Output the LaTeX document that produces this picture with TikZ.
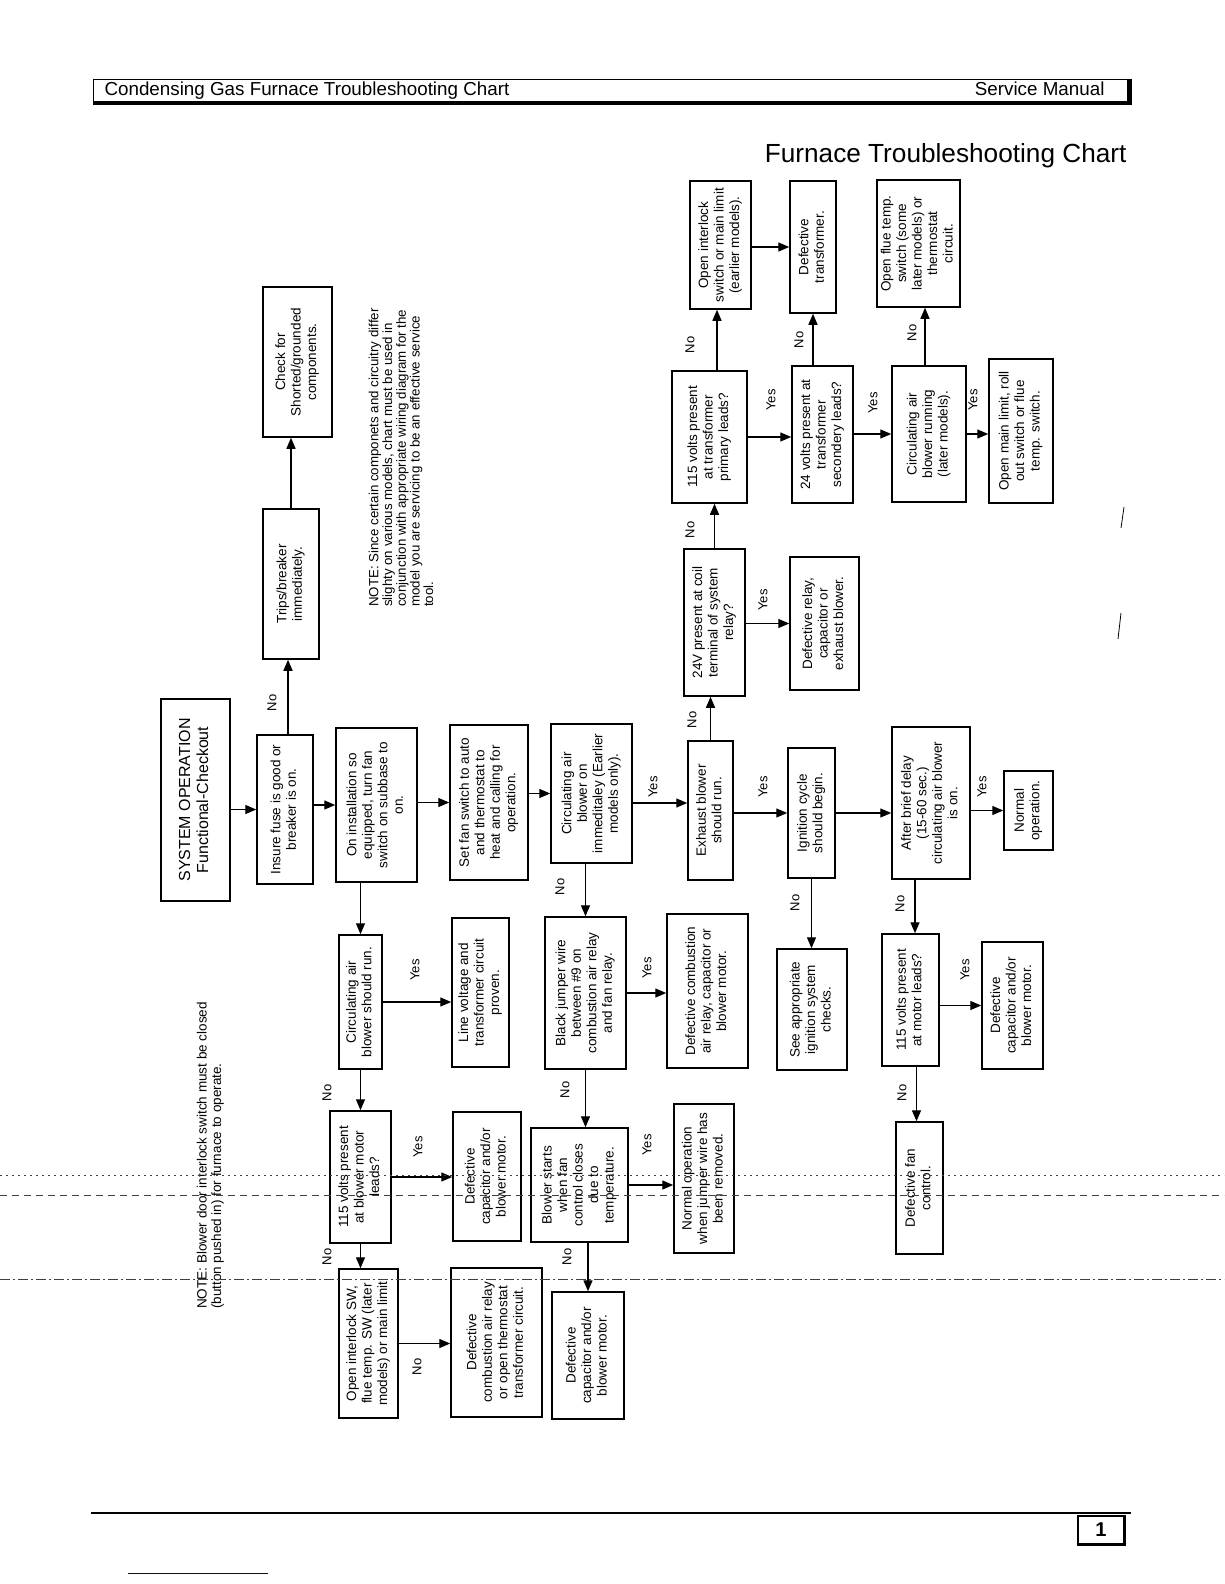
\documentclass[tikz,border=0pt]{standalone}
\usepackage{fontspec}
\setmainfont{Liberation Sans}
\usetikzlibrary{arrows.meta}
% rotated box texts (chart reads bottom to top)
\newcommand{\vt}[1]{\rotatebox{90}{\begin{tabular}{@{}c@{}}#1\end{tabular}}}
\newcommand{\vl}[1]{\rotatebox{90}{\begin{tabular}{@{}l@{}}#1\end{tabular}}}
\begin{document}
\begin{tikzpicture}[x=1pt,y=-1pt,
  every node/.style={font=\fontsize{13.5}{15.5}\selectfont},
  box/.style={draw,line width=1.5pt,inner sep=0pt},
  lbl/.style={font=\fontsize{13}{15}\selectfont,inner sep=0pt},
  notetxt/.style={font=\fontsize{13.3}{13.6}\selectfont,inner sep=0pt},
  arr/.style={line width=1.4pt,-{Triangle[length=11pt,width=9pt]}},
  scan/.style={gray!50!black,line width=0.8pt}]
\fill[white] (0,0) rectangle (1224,1584);
\useasboundingbox (0,0) rectangle (1224,1584);
% Header
\draw[line width=0.8pt] (93,79) rectangle (1131,104);
\draw[line width=3pt] (93,103) -- (1131,103);
\draw[line width=4pt] (1129,79) -- (1129,105);
\node[anchor=west,font=\fontsize{18.8}{20}\selectfont] (hdr) at (101,91) {Condensing Gas Furnace Troubleshooting Chart};
\node[anchor=east,font=\fontsize{18.8}{20}\selectfont] (svc) at (1108,89) {Service Manual};
\node[anchor=east,font=\fontsize{26.2}{28}\selectfont] (title) at (1130,156) {Furnace Troubleshooting Chart};
% Main line
\node[box,minimum width=69pt,minimum height=202pt,font=\fontsize{16}{18}\selectfont] (sysop) at (195.5,800) {\vt{SYSTEM OPERATION\\Functional-Checkout}};
\node[box,minimum width=56pt,minimum height=149pt] (fuse) at (285,809.5) {\vt{Insure fuse is good or\\breaker is on.}};
\node[box,minimum width=81pt,minimum height=154pt] (install) at (376.5,805) {\vt{On installation so\\equipped, turn fan\\switch on subbase to\\on.}};
\node[box,minimum width=78pt,minimum height=155pt] (setfan) at (489,802.5) {\vt{Set fan switch to auto\\and thermostat to\\heat and calling for\\operation.}};
\node[box,minimum width=81pt,minimum height=139pt] (circon) at (591.5,793.5) {\vt{Circulating air\\blower on\\immeditaley (Earlier\\models only).}};
\node[box,minimum width=45pt,minimum height=139pt] (exhaust) at (710.5,810.5) {\vt{Exhaust blower\\should run.}};
\node[box,minimum width=47pt,minimum height=130pt] (ignition) at (811.5,813) {\vt{Ignition cycle\\should begin.}};
\node[box,minimum width=78pt,minimum height=152pt] (delay) at (931,803) {\vt{After brief delay\\(15-60 sec.)\\circulating air blower\\is on.}};
\node[box,minimum width=49pt,minimum height=79pt] (normal) at (1028.5,810.5) {\vt{Normal\\operation.}};
% Fuse branch
\node[box,minimum width=56pt,minimum height=150pt] (trips) at (291,584) {\vt{Trips/breaker\\immediately.}};
\node[box,minimum width=69pt,minimum height=150pt] (check) at (297.5,362) {\vt{Check for\\Shorted/grounded\\components.}};
\node[notetxt,anchor=south] (note1) at (403,607) {\vl{NOTE: Since certain componets and circuitry differ\\slighty on various models, chart must be used in\\conjunction with appropriate wiring diagram for the\\model you are servicing to be an effective service\\tool.}};
% Exhaust branch
\node[box,minimum width=61pt,minimum height=147pt] (coil24) at (714.5,622.5) {\vt{24V present at coil\\terminal of system\\relay?}};
\node[box,minimum width=69pt,minimum height=133pt] (defrelay) at (824.5,623.5) {\vt{Defective relay,\\capacitor or\\exhaust blower.}};
\node[box,minimum width=75pt,minimum height=132pt] (prim115) at (709.5,437) {\vt{115 volts present\\at transformer\\primary leads?}};
\node[box,minimum width=61pt,minimum height=128pt] (openint) at (720.5,245) {\vt{Open interlock\\switch or main limit\\(earlier models).}};
\node[box,minimum width=46pt,minimum height=132pt] (deftrans) at (813,247) {\vt{Defective\\transformer.}};
\node[box,minimum width=61pt,minimum height=137pt] (sec24) at (822.5,434.5) {\vt{24 volts present at\\transformer\\secondery leads?}};
\node[box,minimum width=74pt,minimum height=136pt] (circrun) at (929,434) {\vt{Circulating air\\blower running\\(later models).}};
\node[box,minimum width=83pt,minimum height=127pt] (openflue) at (918.5,243.5) {\vt{Open flue temp.\\switch (some\\later models) or\\thermostat\\circuit.}};
\node[box,minimum width=64pt,minimum height=144pt] (openmain) at (1021,431) {\vt{Open main limit, roll\\out switch or flue\\temp. switch.}};
% Lower branches
\node[box,minimum width=43pt,minimum height=134pt] (shouldrun) at (360.5,1002) {\vt{Circulating air\\blower should run.}};
\node[box,minimum width=57pt,minimum height=149pt] (linev) at (480.5,992.5) {\vt{Line voltage and\\transformer circuit\\proven.}};
\node[box,minimum width=81pt,minimum height=152pt] (blk) at (585.5,993) {\vt{Black jumper wire\\between \#9 on\\combustion air relay\\and fan relay.}};
\node[box,minimum width=81pt,minimum height=154pt] (defcomb) at (707.5,991) {\vt{Defective combustion\\air relay, capacitor or\\blower motor.}};
\node[box,minimum width=70pt,minimum height=121pt] (seeign) at (812,1009.5) {\vt{See appropriate\\ignition system\\checks.}};
\node[box,minimum width=57pt,minimum height=132pt] (mot115) at (910.5,1000) {\vt{115 volts present\\at motor leads?}};
\node[box,minimum width=61pt,minimum height=127pt] (defcap2) at (1012.5,1005.5) {\vt{Defective\\capacitor and/or\\blower motor.}};
\node[box,minimum width=61pt,minimum height=132pt] (bm115) at (360.5,1177) {\vt{115 volts present\\at blower motor\\leads?}};
\node[box,minimum width=68pt,minimum height=129pt] (defcap1) at (487,1176.5) {\vt{Defective\\capacitor and/or\\blower motor.}};
\node[box,minimum width=97pt,minimum height=114pt] (blwstart) at (579.5,1185) {\vt{Blower starts\\when fan\\control closes\\due to\\temperature.}};
\node[box,minimum width=60pt,minimum height=149pt] (normjump) at (704,1178.5) {\vt{Normal operation\\when jumper wire has\\been removed.}};
\node[box,minimum width=47pt,minimum height=132pt] (fanctl) at (919.5,1188) {\vt{Defective fan\\control.}};
\node[box,minimum width=59pt,minimum height=149pt] (opensw) at (368.5,1343.5) {\vt{Open interlock SW,\\flue temp. SW (later\\models) or main limit}};
\node[box,minimum width=91pt,minimum height=149pt] (defcomb2) at (496.5,1342.5) {\vt{Defective\\combustion air relay\\or open thermostat\\transformer circuit.}};
\node[box,minimum width=72pt,minimum height=127pt] (defcap3) at (588,1355.5) {\vt{Defective\\capacitor and/or\\blower motor.}};
\node[notetxt,anchor=south,font=\fontsize{13.5}{14.5}\selectfont] (note2) at (211,1309) {\vl{NOTE: Blower door interlock switch must be closed\\(button pushed in) for furnace to operate.}};
% Connectors along the main line
\draw[arr] (sysop.east |- fuse.west) -- (fuse.west);
\draw[arr] (fuse.east |- install.west) -- (install.west);
\draw[arr] (install.east |- setfan.west) -- (setfan.west);
\draw[arr] (setfan.east |- circon.west) -- (circon.west);
\draw[arr] ([yshift=-9.5pt]circon.east) coordinate (c1) -- (c1 -| exhaust.west);
\draw[arr] (exhaust.east |- ignition.west) -- (ignition.west);
\draw[arr] (ignition.east) -- (ignition.east -| delay.west);
\draw[arr] (delay.east |- normal.west) -- (normal.west);
% Connectors going up
\draw[arr] ([xshift=3pt]fuse.north) coordinate (f1) -- (f1 |- trips.south);
\draw[arr] (trips.north) -- (trips.north |- check.south);
\draw[arr] (exhaust.north) -- (exhaust.north |- coil24.south);
\draw[arr] (coil24.east |- defrelay.west) -- (defrelay.west);
\draw[arr] (coil24.north) -- (coil24.north |- prim115.south);
\draw[arr] ([xshift=7.5pt]prim115.north) coordinate (p1) -- (p1 |- openint.south);
\draw[arr] (openint.east |- deftrans.west) -- (deftrans.west);
\draw[arr] (prim115.east) -- (prim115.east -| sec24.west);
\draw[arr] (sec24.north -| deftrans.south) -- (deftrans.south);
\draw[arr] (sec24.east |- circrun.west) -- (circrun.west);
\draw[arr] ([xshift=-4pt]circrun.north) coordinate (r1) -- (r1 |- openflue.south);
\draw[arr] (circrun.east) -- (circrun.east -| openmain.west);
% Connectors going down
\draw[arr] (ignition.south) -- (ignition.south |- seeign.north);
\draw[arr] ([xshift=-16pt]delay.south) coordinate (d1) -- (d1 |- mot115.north);
\draw[arr] (mot115.east |- defcap2.west) -- (defcap2.west);
\draw[arr] ([xshift=6pt]mot115.south) coordinate (m1) -- (m1 |- fanctl.north);
\draw[arr] (blk.north |- circon.south) -- (blk.north);
\draw[arr] (blk.east) -- (blk.east -| defcomb.west);
\draw[arr] (blk.south) -- (blk.south |- blwstart.north);
\draw[arr] (blwstart.east) -- (blwstart.east -| normjump.west);
\draw[arr] (defcap3.north |- blwstart.south) -- (defcap3.north);
\draw[arr] (shouldrun.north |- install.south) -- (shouldrun.north);
\draw[arr] (shouldrun.east) -- (shouldrun.east -| linev.west);
\draw[arr] (shouldrun.south) -- (shouldrun.south |- bm115.north);
\draw[arr] (bm115.east) -- (bm115.east -| defcap1.west);
\draw[arr] (bm115.south) -- (bm115.south |- opensw.north);
\draw[arr] (opensw.east) -- (opensw.east -| defcomb2.west);
% Yes / No labels
\node[lbl] (n1) at (272,703) {\rotatebox{90}{No}};
\node[lbl] (y1) at (653,787) {\rotatebox{90}{Yes}};
\node[lbl] (y2) at (763,787) {\rotatebox{90}{Yes}};
\node[lbl] (n2) at (692,720) {\rotatebox{90}{No}};
\node[lbl] (y3) at (763,600) {\rotatebox{90}{Yes}};
\node[lbl] (n3) at (690,530) {\rotatebox{90}{No}};
\node[lbl] (n4) at (690,345) {\rotatebox{90}{No}};
\node[lbl] (y4) at (771,400) {\rotatebox{90}{Yes}};
\node[lbl] (n5) at (799,340) {\rotatebox{90}{No}};
\node[lbl] (y5) at (873,403) {\rotatebox{90}{Yes}};
\node[lbl] (n6) at (912,333) {\rotatebox{90}{No}};
\node[lbl] (y6) at (973,400) {\rotatebox{90}{Yes}};
\node[lbl] (y7) at (982,787) {\rotatebox{90}{Yes}};
\node[lbl] (n7) at (795,903) {\rotatebox{90}{No}};
\node[lbl] (n8) at (900,904) {\rotatebox{90}{No}};
\node[lbl] (y8) at (965,970) {\rotatebox{90}{Yes}};
\node[lbl] (n9) at (902,1093) {\rotatebox{90}{No}};
\node[lbl] (n10) at (560,887) {\rotatebox{90}{No}};
\node[lbl] (y9) at (647,968) {\rotatebox{90}{Yes}};
\node[lbl] (n11) at (565,1090) {\rotatebox{90}{No}};
\node[lbl] (y10) at (647,1145) {\rotatebox{90}{Yes}};
\node[lbl] (n12) at (567,1257) {\rotatebox{90}{No}};
\node[lbl] (y11) at (415,970) {\rotatebox{90}{Yes}};
\node[lbl] (n13) at (327,1093) {\rotatebox{90}{No}};
\node[lbl] (y12) at (418,1147) {\rotatebox{90}{Yes}};
\node[lbl] (n14) at (327,1257) {\rotatebox{90}{No}};
\node[lbl] (n15) at (417,1367) {\rotatebox{90}{No}};
% Scan marks
\draw[scan,dash pattern=on 2pt off 4pt] (0,1175) -- (1224,1175);
\draw[scan,dash pattern=on 7pt off 5pt] (0,1195) -- (1224,1195);
\draw[scan,dash pattern=on 10pt off 3pt on 2pt off 3pt] (0,1279) -- (1224,1279);
\draw[line width=0.8pt] (1124,507) -- (1121,528);
\draw[line width=0.8pt] (1121,613) -- (1118,639);
% Footer
\draw[line width=1.5pt] (91,1513) -- (1131,1513);
\node[draw,line width=1.2pt,minimum width=46pt,minimum height=28pt,font=\fontsize{20}{22}\selectfont\bfseries] (pg) at (1101,1530) {1};
\draw[line width=3pt] (pg.south west) -- (pg.south east) -- (pg.north east);
\draw[blue!60!black,line width=1pt] (128,1573) -- (268,1573);
\end{tikzpicture}
\end{document}
